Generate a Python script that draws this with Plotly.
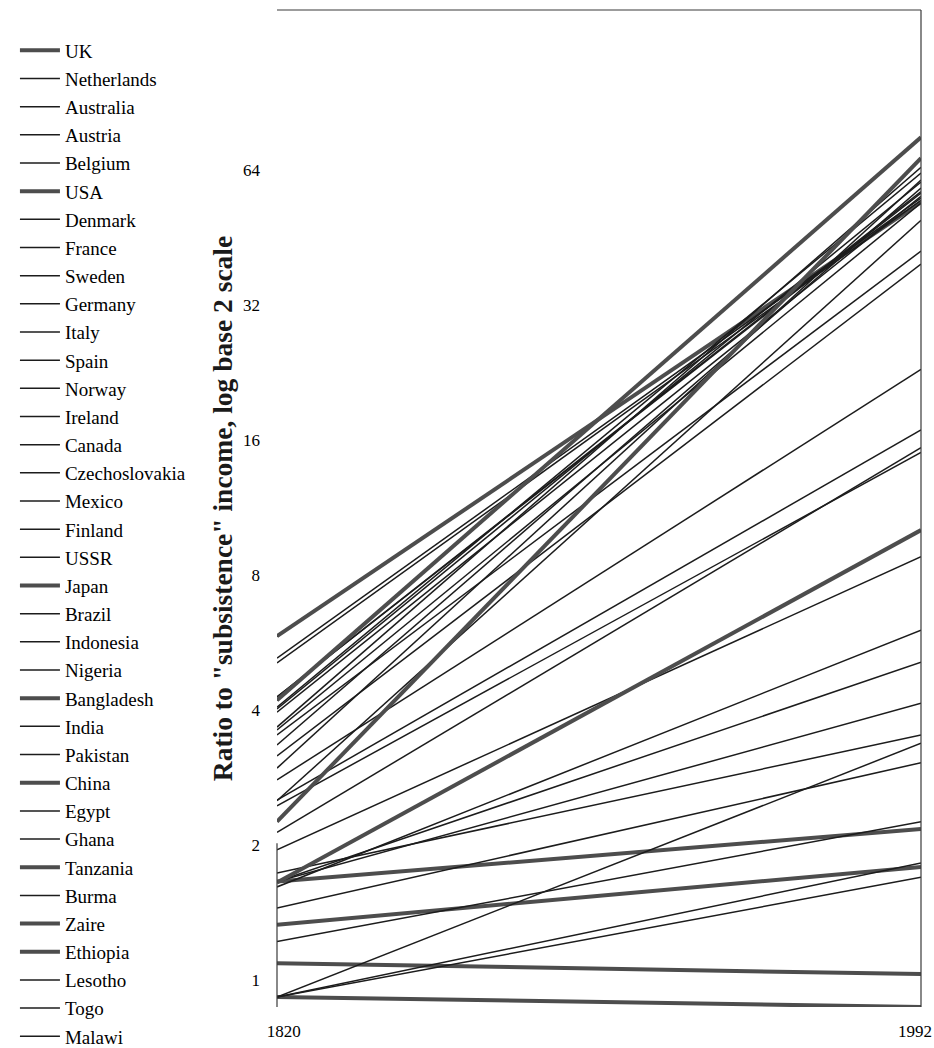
import math
import plotly.graph_objects as go

# Countries in legend order, with income as a ratio to "subsistence" in 1820 and 1992
countries = [
    "UK", "Netherlands", "Australia", "Austria", "Belgium", "USA", "Denmark",
    "France", "Sweden", "Germany", "Italy", "Spain", "Norway", "Ireland",
    "Canada", "Czechoslovakia", "Mexico", "Finland", "USSR", "Japan", "Brazil",
    "Indonesia", "Nigeria", "Bangladesh", "India", "Pakistan", "China", "Egypt",
    "Ghana", "Tanzania", "Burma", "Zaire", "Ethiopia", "Lesotho", "Togo", "Malawi",
]
ratio_1820 = [
    6.38, 5.70, 5.56, 4.67, 4.67, 4.59, 4.43,
    4.39, 4.32, 4.00, 3.94, 3.84, 3.65, 3.45,
    3.24, 3.05, 2.75, 2.74, 2.67, 2.46, 2.33,
    2.13, 1.89, 1.81, 1.81, 1.81, 1.80, 1.76,
    1.58, 1.45, 1.33, 1.19, 1.00, 1.00, 1.00, 1.00,
]
ratio_1992 = [
    59.3, 60.5, 59.8, 62.1, 62.6, 82.7, 68.8,
    65.7, 61.1, 70.9, 59.0, 46.1, 63.7, 43.1,
    66.4, 25.1, 18.4, 54.0, 16.4, 74.3, 16.8,
    9.6, 3.84, 2.37, 4.52, 5.58, 11.0, 6.58,
    3.33, 1.95, 2.46, 1.125, 0.95, 3.68, 1.99, 1.85,
]
highlighted = ["UK", "USA", "Japan", "Bangladesh", "China", "Tanzania", "Zaire", "Ethiopia"]

years = [1820, 1992]
y_ticks = [1, 2, 4, 8, 16, 32, 64]
y_min, y_max = 0.95, 159

SERIF = "Liberation Serif"
NBSP = "\u00a0"

fig = go.Figure()
for name, a, b in zip(countries, ratio_1820, ratio_1992):
    bold = name in highlighted
    fig.add_trace(go.Scatter(
        x=years, y=[a, b], mode="lines", name=name, legendgroup=name,
        line=dict(color="#4d4d4d" if bold else "#1c1c1c", width=4 if bold else 1.5),
        hoverinfo="name",
    ))

frame = dict(color="#3a3a3a", width=1.2)
fig.add_shape(type="line", xref="x domain", yref="y", x0=0, x1=0,
              y0=math.log10(1), y1=math.log10(y_max), line=frame)
fig.add_shape(type="line", xref="x domain", yref="y domain", x0=1, x1=1,
              y0=0, y1=1, line=frame)
fig.add_shape(type="line", xref="x domain", yref="y domain", x0=0, x1=1,
              y0=1, y1=1, line=frame)

# Year labels: all shifted a little left so 1992 fits the page, 1820 padded back right
year_text = [NBSP * 6 + str(years[0]), str(years[1])]

fig.update_layout(
    width=934, height=1048,
    margin=dict(l=277, r=13, t=10, b=41, autoexpand=False),
    paper_bgcolor="white", plot_bgcolor="white",
    font=dict(family=SERIF, color="black"),
    showlegend=True,
    legend=dict(
        xref="container", yref="container", x=0.016, y=0.970,
        xanchor="left", yanchor="top", maxheight=1200,
        font=dict(family=SERIF, size=19, color="black"),
        itemwidth=40, tracegroupgap=0.47, traceorder="grouped",
        bgcolor="rgba(0,0,0,0)", borderwidth=0,
    ),
    xaxis=dict(
        range=[1820, 1992], tickvals=years, ticktext=year_text,
        showgrid=False, zeroline=False, showline=False, ticks="",
        ticklabelstandoff=12, ticklabelshift=-6, ticklabeloverflow="allow",
        automargin=False,
        tickfont=dict(family=SERIF, size=17, color="black"),
    ),
    yaxis=dict(
        type="log", range=[math.log10(y_min), math.log10(y_max)],
        tickvals=y_ticks, ticktext=[str(v) for v in y_ticks],
        showgrid=False, zeroline=False, showline=False, ticks="",
        ticklabelshift=-17, ticklabelstandoff=16, automargin=False,
        tickfont=dict(family=SERIF, size=17, color="black"),
        title=dict(text='<b>Ratio to "subsistence" income, log base 2 scale</b>',
                   font=dict(family=SERIF, size=27.5, color="#1a1a1a"), standoff=2),
    ),
)

fig.write_html("out.html")
